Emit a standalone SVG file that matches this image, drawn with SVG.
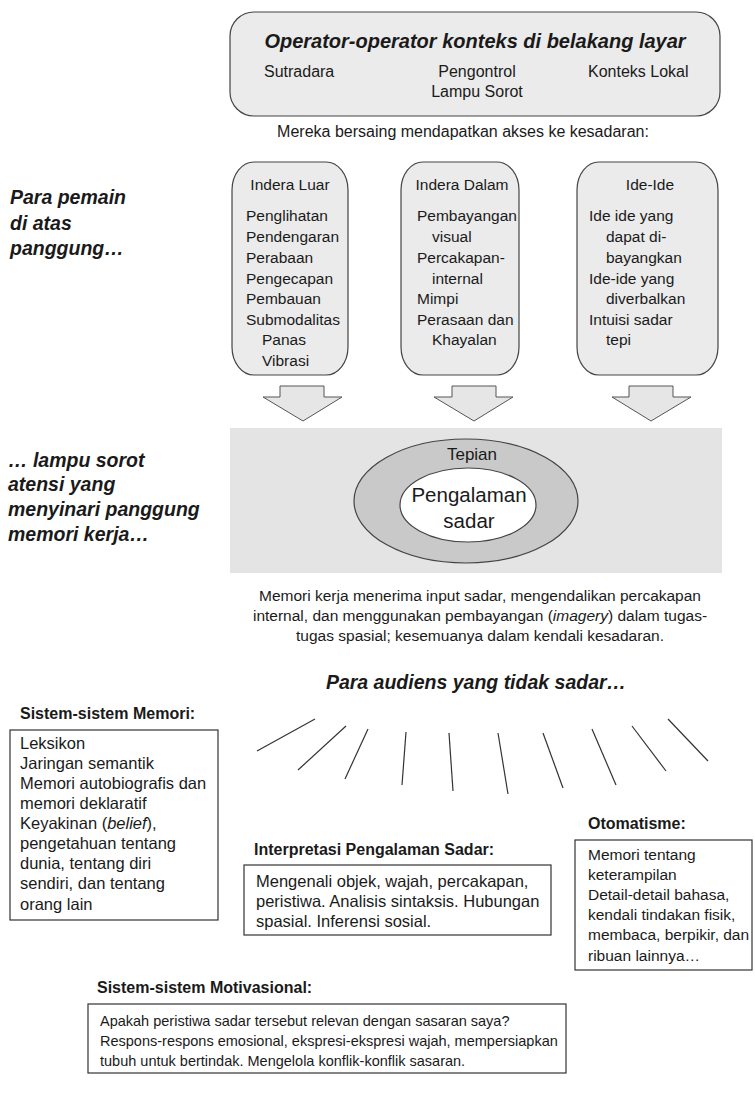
<svg xmlns="http://www.w3.org/2000/svg" width="755" height="1100" viewBox="0 0 755 1100">
<style>
text{font-family:"Liberation Sans",Arial,sans-serif;fill:#1a1a1a}
.t{font-size:15.5px}
.u{font-size:16px}
.bi{font-weight:bold;font-style:italic;font-size:19.5px}
.h{font-weight:bold;font-size:16px}
.box{fill:#fff;stroke:#333;stroke-width:1.2}
.rbox{fill:#ebebeb;stroke:#444;stroke-width:1.2}
.arr{fill:#e6e6e6;stroke:#555;stroke-width:1}
.ray{stroke:#333;stroke-width:1.2;fill:none}
.c{text-anchor:middle}
</style>
<rect width="755" height="1100" fill="#fff"/>

<g id="context-operators">
<rect class="rbox" x="230" y="12" width="490" height="104" rx="24" ry="24"/>
<text x="475" y="48" class="c" style="font-weight:bold;font-style:italic;font-size:20px">Operator-operator konteks di belakang layar</text>
<text x="264" y="77" class="u">Sutradara</text>
<text x="477" y="77" class="u c">Pengontrol</text>
<text x="477" y="97" class="u c">Lampu Sorot</text>
<text x="588" y="77" class="u">Konteks Lokal</text>
</g>

<text x="463" y="137" class="u c">Mereka bersaing mendapatkan akses ke kesadaran:</text>

<g id="label-players">
<text x="10" y="204" class="bi">Para pemain</text>
<text x="10" y="230" class="bi">di atas</text>
<text x="10" y="255" class="bi">panggung…</text>
</g>

<g id="indera-luar">
<rect class="rbox" x="232" y="162" width="116" height="213" rx="22" ry="28"/>
<text x="290" y="190" class="t c">Indera Luar</text>
<text x="246" y="221" class="t">Penglihatan</text>
<text x="246" y="242" class="t">Pendengaran</text>
<text x="246" y="263" class="t">Perabaan</text>
<text x="246" y="284" class="t">Pengecapan</text>
<text x="246" y="304" class="t">Pembauan</text>
<text x="246" y="325" class="t">Submodalitas</text>
<text x="262" y="345" class="t">Panas</text>
<text x="262" y="366" class="t">Vibrasi</text>
</g>

<g id="indera-dalam">
<rect class="rbox" x="401" y="162" width="118" height="213" rx="22" ry="28"/>
<text x="462" y="190" class="t c">Indera Dalam</text>
<text x="417" y="221" class="t">Pembayangan</text>
<text x="432" y="242" class="t">visual</text>
<text x="417" y="263" class="t">Percakapan-</text>
<text x="432" y="284" class="t">internal</text>
<text x="417" y="304" class="t">Mimpi</text>
<text x="417" y="325" class="t">Perasaan dan</text>
<text x="432" y="345" class="t">Khayalan</text>
</g>

<g id="ide-ide">
<rect class="rbox" x="577" y="162" width="141" height="213" rx="22" ry="28"/>
<text x="650" y="190" class="t c">Ide-Ide</text>
<text x="589" y="221" class="t">Ide ide yang</text>
<text x="606" y="242" class="t">dapat di-</text>
<text x="606" y="263" class="t">bayangkan</text>
<text x="589" y="284" class="t">Ide-ide yang</text>
<text x="606" y="304" class="t">diverbalkan</text>
<text x="589" y="325" class="t">Intuisi sadar</text>
<text x="606" y="345" class="t">tepi</text>
</g>

<g id="connectors">
<polygon class="arr" points="280,386 324,386 324,397 342,397 303,421 263,397 280,397"/>
<polygon class="arr" points="452,386 496,386 496,397 513,397 474,421 434,397 452,397"/>
<polygon class="arr" points="629,386 673,386 673,397 691,397 651,421 612,397 629,397"/>
<path class="ray" d="M257,751 L315,719"/>
<path class="ray" d="M298,770 L346,726"/>
<path class="ray" d="M345,779 L368,729"/>
<path class="ray" d="M402,785 L406,732"/>
<path class="ray" d="M453,791 L449,733"/>
<path class="ray" d="M508,794 L498,733"/>
<path class="ray" d="M563,788 L543,733"/>
<path class="ray" d="M616,785 L592,729"/>
<path class="ray" d="M666,771 L632,726"/>
<path class="ray" d="M708,761 L668,719"/>
</g>

<g id="label-spotlight">
<text x="8" y="467" class="bi">… lampu sorot</text>
<text x="8" y="491" class="bi">atensi yang</text>
<text x="8" y="516" class="bi">menyinari panggung</text>
<text x="8" y="541" class="bi">memori kerja…</text>
</g>

<g id="working-memory">
<rect x="230" y="428" width="492" height="145" fill="#e4e4e4"/>
<ellipse cx="466" cy="501" rx="112" ry="62" fill="#c9c9c9" stroke="#444" stroke-width="1.2"/>
<ellipse cx="468" cy="505" rx="68" ry="37" fill="#fff" stroke="#444" stroke-width="1.2"/>
<text x="472" y="460" class="c" style="font-size:17px">Tepian</text>
<text x="469" y="502" class="c" style="font-size:20.5px">Pengalaman</text>
<text x="469" y="528" class="c" style="font-size:20.5px">sadar</text>
</g>

<g id="wm-caption">
<text x="480" y="601" class="c" style="font-size:15.5px">Memori kerja menerima input sadar, mengendalikan percakapan</text>
<text x="480" y="621" class="c" style="font-size:15.5px">internal, dan menggunakan pembayangan (<tspan font-style="italic">imagery</tspan>) dalam tugas-</text>
<text x="480" y="641" class="c" style="font-size:15.5px">tugas spasial; kesemuanya dalam kendali kesadaran.</text>
</g>

<text x="476" y="689" class="c" style="font-weight:bold;font-style:italic;font-size:19.5px">Para audiens yang tidak sadar…</text>

<g id="memory-systems">
<text x="20" y="719" class="h">Sistem-sistem Memori:</text>
<rect class="box" x="10" y="730" width="208" height="190"/>
<g style="font-size:16.5px">
<text x="20" y="749">Leksikon</text>
<text x="20" y="769">Jaringan semantik</text>
<text x="20" y="789">Memori autobiografis dan</text>
<text x="20" y="809">memori deklaratif</text>
<text x="20" y="829">Keyakinan (<tspan font-style="italic">belief</tspan>),</text>
<text x="20" y="849">pengetahuan tentang</text>
<text x="20" y="869">dunia, tentang diri</text>
<text x="20" y="889">sendiri, dan tentang</text>
<text x="20" y="910">orang lain</text>
</g>
</g>

<g id="interpretation">
<text x="254" y="855" class="h">Interpretasi Pengalaman Sadar:</text>
<rect class="box" x="244" y="865" width="307" height="70"/>
<g style="font-size:16.5px">
<text x="256" y="887">Mengenali objek, wajah, percakapan,</text>
<text x="256" y="907">peristiwa. Analisis sintaksis. Hubungan</text>
<text x="256" y="927">spasial. Inferensi sosial.</text>
</g>
</g>

<g id="automatisms">
<text x="588" y="829" class="h">Otomatisme:</text>
<rect class="box" x="575" y="840" width="177" height="130"/>
<g style="font-size:15.5px">
<text x="588" y="860">Memori tentang</text>
<text x="588" y="880">keterampilan</text>
<text x="588" y="900">Detail-detail bahasa,</text>
<text x="588" y="920">kendali tindakan fisik,</text>
<text x="588" y="940">membaca, berpikir, dan</text>
<text x="588" y="961">ribuan lainnya…</text>
</g>
</g>

<g id="motivational">
<text x="97" y="993" class="h">Sistem-sistem Motivasional:</text>
<rect class="box" x="88" y="1004" width="478" height="69"/>
<g style="font-size:14.5px">
<text x="100" y="1026">Apakah peristiwa sadar tersebut relevan dengan sasaran saya?</text>
<text x="100" y="1046">Respons-respons emosional, ekspresi-ekspresi wajah, mempersiapkan</text>
<text x="100" y="1066">tubuh untuk bertindak. Mengelola konflik-konflik sasaran.</text>
</g>
</g>
</svg>
